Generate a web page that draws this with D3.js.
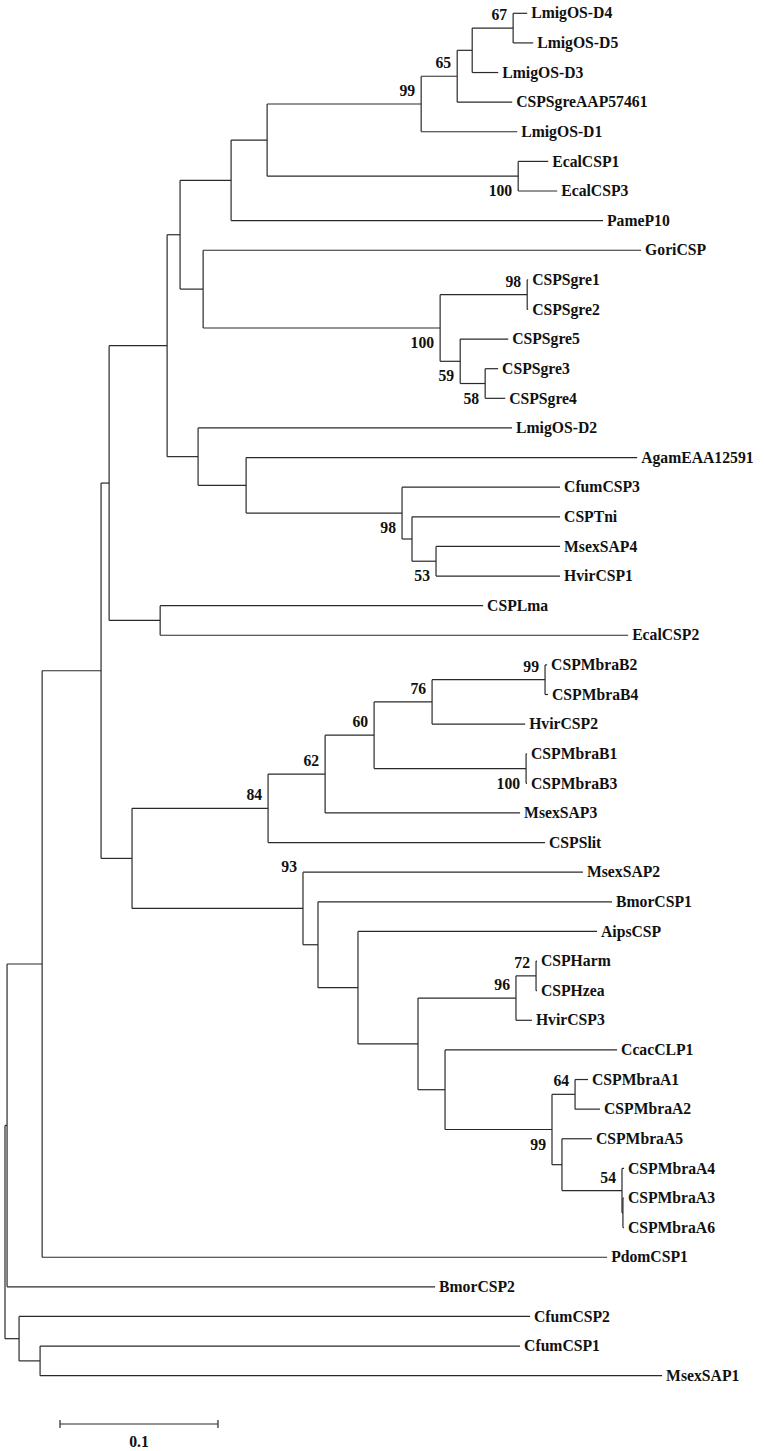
<!DOCTYPE html>
<html>
<head>
<meta charset="utf-8">
<script src="https://cdn.jsdelivr.net/npm/d3@7"></script>
<style>
  html, body { margin: 0; padding: 0; background: #fff; }
  .branch { fill: none; stroke: #2a2a2a; stroke-width: 1.2; }
  text { font-family: "Liberation Serif", "Times New Roman", serif; font-weight: bold; fill: #111; }
</style>
</head>
<body>
<div id="tree"></div>
<script>
// leaf order, top to bottom
const taxa = [
  "LmigOS-D4", "LmigOS-D5", "LmigOS-D3", "CSPSgreAAP57461", "LmigOS-D1",
  "EcalCSP1", "EcalCSP3", "PameP10", "GoriCSP", "CSPSgre1", "CSPSgre2",
  "CSPSgre5", "CSPSgre3", "CSPSgre4", "LmigOS-D2", "AgamEAA12591",
  "CfumCSP3", "CSPTni", "MsexSAP4", "HvirCSP1", "CSPLma", "EcalCSP2",
  "CSPMbraB2", "CSPMbraB4", "HvirCSP2", "CSPMbraB1", "CSPMbraB3",
  "MsexSAP3", "CSPSlit", "MsexSAP2", "BmorCSP1", "AipsCSP", "CSPHarm",
  "CSPHzea", "HvirCSP3", "CcacCLP1", "CSPMbraA1", "CSPMbraA2",
  "CSPMbraA5", "CSPMbraA4", "CSPMbraA3", "CSPMbraA6", "PdomCSP1",
  "BmorCSP2", "CfumCSP2", "CfumCSP1", "MsexSAP1"
];

// [node, parent, branch length]
const edges = [
  ["root", "", 0],
  ["A", "root", 0.0013], ["C", "root", 0.0089],
  ["D", "C", 0.0133], ["CfumCSP2", "C", 0.3234],
  ["CfumCSP1", "D", 0.3038], ["MsexSAP1", "D", 0.3937],
  ["B", "A", 0.0222], ["BmorCSP2", "A", 0.2709],
  ["E", "B", 0.0373], ["PdomCSP1", "B", 0.3576],
  ["F", "E", 0.0051], ["G", "E", 0.0196],
  ["H", "F", 0.0367], ["I", "F", 0.0323],
  ["CSPLma", "I", 0.2044], ["EcalCSP2", "I", 0.2962],
  ["L", "H", 0.0082], ["M", "H", 0.0196],
  ["N", "L", 0.0323], ["O", "L", 0.0146],
  ["P", "N", 0.0228], ["PameP10", "N", 0.2354],
  ["n99a", "P", 0.0975], ["nEcal", "P", 0.1589],
  ["EcalCSP1", "nEcal", 0.0190], ["EcalCSP3", "nEcal", 0.0247],
  ["n65", "n99a", 0.0228], ["LmigOS-D1", "n99a", 0.0608],
  ["nD3", "n65", 0.0095], ["CSPSgreAAP57461", "n65", 0.0348],
  ["n67", "nD3", 0.0259], ["LmigOS-D3", "nD3", 0.0165],
  ["LmigOS-D4", "n67", 0.0089], ["LmigOS-D5", "n67", 0.0127],
  ["GoriCSP", "O", 0.2772], ["nSg100", "O", 0.1500],
  ["nSg98", "nSg100", 0.0551], ["n59", "nSg100", 0.0127],
  ["CSPSgre1", "nSg98", 0.0006], ["CSPSgre2", "nSg98", 0.0006],
  ["CSPSgre5", "n59", 0.0304], ["n58", "n59", 0.0158],
  ["CSPSgre3", "n58", 0.0082], ["CSPSgre4", "n58", 0.0127],
  ["LmigOS-D2", "M", 0.1987], ["R", "M", 0.0304],
  ["AgamEAA12591", "R", 0.2475], ["nCf98", "R", 0.0987],
  ["CfumCSP3", "nCf98", 0.1000], ["S", "nCf98", 0.0063],
  ["CSPTni", "S", 0.0937], ["n53", "S", 0.0152],
  ["MsexSAP4", "n53", 0.0785], ["HvirCSP1", "n53", 0.0785],
  ["J", "G", 0.0861], ["K", "G", 0.1082],
  ["n62", "J", 0.0361], ["CSPSlit", "J", 0.1753],
  ["n60", "n62", 0.0310], ["MsexSAP3", "n62", 0.1234],
  ["n76", "n60", 0.0367], ["nB13", "n60", 0.0962],
  ["nB24", "n76", 0.0715], ["HvirCSP2", "n76", 0.0589],
  ["CSPMbraB2", "nB24", 0.0013], ["CSPMbraB4", "nB24", 0.0019],
  ["CSPMbraB1", "nB13", 0.0006], ["CSPMbraB3", "nB13", 0.0006],
  ["MsexSAP2", "K", 0.1772], ["T", "K", 0.0095],
  ["BmorCSP1", "T", 0.1861], ["Z", "T", 0.0253],
  ["AipsCSP", "Z", 0.1513], ["Q", "Z", 0.0380],
  ["n96", "Q", 0.0620], ["V", "Q", 0.0171],
  ["n72", "n96", 0.0127], ["HvirCSP3", "n96", 0.0101],
  ["CSPHarm", "n72", 0.0006], ["CSPHzea", "n72", 0.0006],
  ["CcacCLP1", "V", 0.1089], ["nA99", "V", 0.0677],
  ["nA64", "nA99", 0.0146], ["W", "nA99", 0.0063],
  ["CSPMbraA1", "nA64", 0.0082], ["CSPMbraA2", "nA64", 0.0158],
  ["CSPMbraA5", "W", 0.0190], ["X", "W", 0.0380],
  ["CSPMbraA4", "X", 0.0013], ["Y", "X", 0.0006],
  ["CSPMbraA3", "Y", 0.0006], ["CSPMbraA6", "Y", 0.0006]
];

// bootstrap values [node, value]
const support = [
  ["n67", 67], ["n65", 65], ["n99a", 99], ["nEcal", 100],
  ["nSg98", 98], ["nSg100", 100], ["n59", 59], ["n58", 58],
  ["nCf98", 98], ["n53", 53], ["nB24", 99], ["n76", 76],
  ["n60", 60], ["n62", 62], ["J", 84], ["nB13", 100],
  ["K", 93], ["n72", 72], ["n96", 96], ["nA64", 64],
  ["nA99", 99], ["X", 54]
];
// these labels sit under the branch instead of over it
const supportBelow = ["nEcal", "nSg100", "n59", "n58", "nCf98", "n53", "nB13", "nA99"];
// 93 is drawn up beside the MsexSAP2 branch in the original
const supportHigh = ["K"];

const scaleBar = 0.1;

const width = 764, height = 1451;

const svg = d3.select("#tree").append("svg")
    .attr("width", width)
    .attr("height", height);

const root = d3.stratify()
    .id(d => d[0])
    .parentId(d => d[1])(edges);

// cumulative distance from the root
root.eachBefore(n => {
    n.dist = (n.parent ? n.parent.dist : 0) + n.data[2];
});

const x = d3.scaleLinear().domain([0, 0.1]).range([5, 163]);
const y = d3.scalePoint().domain(taxa).range([13.3, 1375.7]);

root.eachAfter(n => {
    if (n.children) {
        const ys = n.children.map(c => c.yPos);
        n.yPos = (d3.min(ys) + d3.max(ys)) / 2;
    } else {
        n.yPos = y(n.id);
    }
});

const g = svg.append("g");

// horizontal branches
g.selectAll("path.h")
    .data(root.descendants().filter(n => n.parent))
    .enter().append("path")
    .attr("class", "branch h")
    .attr("d", n => `M${x(n.parent.dist)},${n.yPos}H${x(n.dist)}`);

// vertical connectors
g.selectAll("path.v")
    .data(root.descendants().filter(n => n.children))
    .enter().append("path")
    .attr("class", "branch v")
    .attr("d", n => {
        const ys = n.children.map(c => c.yPos);
        return `M${x(n.dist)},${d3.min(ys)}V${d3.max(ys)}`;
    });

// leaf names
g.selectAll("text.leaf")
    .data(root.leaves())
    .enter().append("text")
    .attr("class", "leaf")
    .attr("x", n => x(n.dist) + 4)
    .attr("y", n => n.yPos)
    .attr("dy", "0.33em")
    .style("font-size", "15.7px")
    .text(n => n.id);

// bootstrap values
const byId = new Map(root.descendants().map(n => [n.id, n]));
function bootOffset(id) {
    if (supportBelow.includes(id)) return 20;
    if (supportHigh.includes(id)) return -36;
    return -8;
}
g.selectAll("text.boot")
    .data(support)
    .enter().append("text")
    .attr("class", "boot")
    .attr("text-anchor", "end")
    .attr("x", d => x(byId.get(d[0]).dist) - 6)
    .attr("y", d => byId.get(d[0]).yPos + bootOffset(d[0]))
    .style("font-size", "15.7px")
    .text(d => d[1]);

// scale bar
const barX = 60, barY = 1424;
const barLen = x(scaleBar) - x(0);
const bar = svg.append("g");
bar.append("path")
    .attr("class", "branch")
    .attr("d", `M${barX},${barY}H${barX + barLen}`);
[barX, barX + barLen].forEach(px => {
    bar.append("path")
        .attr("class", "branch")
        .attr("d", `M${px},${barY - 4}V${barY + 4}`);
});
bar.append("text")
    .attr("x", barX + barLen / 2)
    .attr("y", barY + 23)
    .attr("text-anchor", "middle")
    .style("font-size", "15.7px")
    .text(scaleBar);
</script>
</body>
</html>
